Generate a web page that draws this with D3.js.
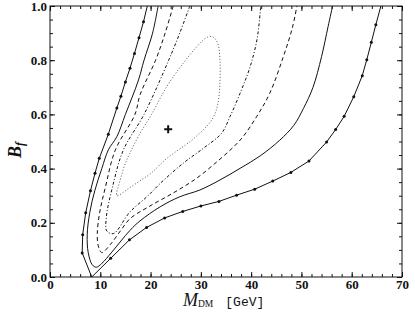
<!DOCTYPE html>
<html>
<head>
<meta charset="utf-8">
<script src="https://cdn.jsdelivr.net/npm/d3@7"></script>
<style>
body { margin: 0; background: #fff; }
text { fill: #111; }
</style>
</head>
<body>
<svg id="chart" width="415" height="312"></svg>
<script>
// contours, [M_DM, B_f]
var outerLeft = [[19.35, 1.0], [18.6, 0.942], [17.7, 0.883], [16.8, 0.825], [15.9, 0.77], [15.0, 0.72], [14.1, 0.667],
    [13.3, 0.624], [11.6, 0.527], [9.8, 0.438], [8.95, 0.383], [8.05, 0.318], [7.1, 0.237], [6.5, 0.156], [6.4, 0.089], [8.3, 0.0]]
var outerRight = [[8.3, 0.0], [12.07, 0.069], [15.8, 0.137], [19.2, 0.183], [22.8, 0.218], [26.4, 0.242], [30.0, 0.262],
    [33.6, 0.279], [37.1, 0.302], [40.7, 0.324], [44.3, 0.354], [47.9, 0.386], [51.5, 0.428], [55.0, 0.498], [56.8, 0.544],
    [58.5, 0.593], [60.4, 0.665], [62.1, 0.743], [63.0, 0.802], [63.9, 0.866], [64.8, 0.931], [65.8, 1.0]]
var solidCurve = [[21.5, 1.0], [20.4, 0.9], [18.7, 0.8], [17.6, 0.727], [15.0, 0.6], [13.3, 0.518], [11.6, 0.469], [10.3, 0.4],
    [8.9, 0.318], [7.9, 0.237], [7.4, 0.156], [7.6, 0.09], [8.4, 0.045], [9.2, 0.036], [10.3, 0.05], [12.3, 0.092],
    [15.9, 0.172], [17.9, 0.207], [21.9, 0.259], [25.8, 0.296], [29.8, 0.321], [33.8, 0.358], [37.8, 0.401], [41.8, 0.447],
    [45.7, 0.505], [48.5, 0.56], [50.4, 0.622], [52.3, 0.7], [54.0, 0.813], [55.3, 0.924], [56.2, 1.0]]
var dashedCurve = [[24.5, 1.0], [22.9, 0.9], [21.0, 0.8], [17.9, 0.672], [16.9, 0.6], [13.0, 0.469], [11.0, 0.33], [9.9, 0.24],
    [9.4, 0.16], [9.6, 0.115], [10.3, 0.09], [12.0, 0.12], [14.0, 0.17], [15.9, 0.215], [19.5, 0.258], [24.5, 0.31],
    [29.2, 0.365], [33.5, 0.43], [36.5, 0.48], [38.4, 0.518], [41.1, 0.592], [43.7, 0.678], [46.4, 0.813], [48.2, 0.92], [49.1, 1.0]]
var dashDotCurve = [[27.8, 1.0], [25.8, 0.9], [23.6, 0.8], [18.7, 0.6], [14.6, 0.469], [12.4, 0.33], [11.2, 0.22], [11.3, 0.17],
    [12.6, 0.16], [15.9, 0.24], [19.5, 0.3], [21.9, 0.345], [26.5, 0.42], [30.5, 0.475], [34.1, 0.53], [35.8, 0.592],
    [37.8, 0.678], [39.8, 0.776], [41.2, 0.88], [41.9, 1.0]]
var dottedLoop = [[13.3, 0.30], [14.0, 0.36], [15.0, 0.42], [16.2, 0.469], [17.9, 0.53], [20.2, 0.6], [23.2, 0.702],
    [26.5, 0.789], [29.8, 0.862], [31.3, 0.885], [32.3, 0.887], [33.3, 0.865], [33.8, 0.8], [33.8, 0.72], [33.4, 0.641],
    [32.5, 0.59], [31.1, 0.555], [28.2, 0.505], [23.2, 0.437], [19.9, 0.38], [17.9, 0.355], [15.5, 0.325]]
var bestFit = [23.5, 0.545]

var xTicks = [0, 10, 20, 30, 40, 50, 60, 70]
var yTicks = [0.0, 0.2, 0.4, 0.6, 0.8, 1.0]
var xMinor = d3.range(0, 70.01, 2)
var yMinor = d3.range(0, 1.001, 0.05)

var svg = d3.select("#chart"),
    margin = { top: 6, left: 50, bottom: 35, right: 13 },
    width = 415,
    height = 312;

var x = d3.scaleLinear()
    .domain([0, 70])
    .range([margin.left, width - margin.right])

var y = d3.scaleLinear()
    .domain([0, 1])
    .range([height - margin.bottom, margin.top])

svg.append("clipPath").attr("id", "clip")
    .append("rect")
    .attr("x", x(0)).attr("y", y(1))
    .attr("width", x(70) - x(0)).attr("height", y(0) - y(1))

var plot = svg.append("g").attr("clip-path", "url(#clip)")

var smooth = d3.line()
    .x(d => x(d[0]))
    .y(d => y(d[1]))
    .curve(d3.curveCatmullRom.alpha(0.5))

var straight = d3.line()
    .x(d => x(d[0]))
    .y(d => y(d[1]))

var loop = d3.line()
    .x(d => x(d[0]))
    .y(d => y(d[1]))
    .curve(d3.curveCatmullRomClosed.alpha(0.5))

function curve(path, dash, color) {
    plot.append("path")
        .attr("d", path)
        .attr("fill", "none")
        .attr("stroke", color || "#111")
        .attr("stroke-width", 1)
        .attr("stroke-dasharray", dash)
}

curve(straight(outerLeft.concat(outerRight.slice(1))), null)
curve(smooth(solidCurve), null)
curve(smooth(dashedCurve), "4,3")
curve(smooth(dashDotCurve), "3,2,1,2")
curve(loop(dottedLoop), "1,2", "#555")

// markers on the outer contour
var marks = outerLeft.slice(1, -1).concat(outerRight.slice(1, -1))
plot.selectAll("circle.mark")
    .data(marks)
    .enter().append("circle")
    .attr("class", "mark")
    .attr("cx", d => x(d[0]))
    .attr("cy", d => y(d[1]))
    .attr("r", 1.5)
    .attr("fill", "#111")

// best fit cross
var bx = x(bestFit[0]), by = y(bestFit[1])
plot.append("path")
    .attr("d", `M${bx - 4},${by}H${bx + 4}M${bx},${by - 4}V${by + 4}`)
    .attr("stroke", "#111")
    .attr("stroke-width", 2)

// axes, ticks inward on all sides
function styleAxis(g) {
    g.select(".domain").remove()
    g.selectAll("line").attr("stroke", "#111")
    g.selectAll("text")
        .style("font-family", "Liberation Serif")
        .style("font-weight", "bold")
        .style("font-size", "13px")
}

svg.append("g")
    .attr("transform", `translate(0,${y(0)})`)
    .call(d3.axisBottom(x).tickValues(xTicks).tickSize(-5).tickPadding(3).tickFormat(d3.format("d")))
    .call(styleAxis)

svg.append("g")
    .attr("transform", `translate(0,${y(0)})`)
    .call(d3.axisBottom(x).tickValues(xMinor).tickSize(-3).tickFormat(""))
    .call(styleAxis)

svg.append("g")
    .attr("transform", `translate(0,${y(1)})`)
    .call(d3.axisTop(x).tickValues(xTicks).tickSize(-5).tickFormat(""))
    .call(styleAxis)

svg.append("g")
    .attr("transform", `translate(0,${y(1)})`)
    .call(d3.axisTop(x).tickValues(xMinor).tickSize(-3).tickFormat(""))
    .call(styleAxis)

svg.append("g")
    .attr("transform", `translate(${x(0)},0)`)
    .call(d3.axisLeft(y).tickValues(yTicks).tickSize(-5).tickPadding(3).tickFormat(d3.format(".1f")))
    .call(styleAxis)

svg.append("g")
    .attr("transform", `translate(${x(0)},0)`)
    .call(d3.axisLeft(y).tickValues(yMinor).tickSize(-3).tickFormat(""))
    .call(styleAxis)

svg.append("g")
    .attr("transform", `translate(${x(70)},0)`)
    .call(d3.axisRight(y).tickValues(yTicks).tickSize(-5).tickFormat(""))
    .call(styleAxis)

svg.append("g")
    .attr("transform", `translate(${x(70)},0)`)
    .call(d3.axisRight(y).tickValues(yMinor).tickSize(-3).tickFormat(""))
    .call(styleAxis)

svg.append("rect")
    .attr("x", x(0)).attr("y", y(1))
    .attr("width", x(70) - x(0)).attr("height", y(0) - y(1))
    .attr("fill", "none")
    .attr("stroke", "#111")
    .attr("stroke-width", 1)

// axis titles
var xt = svg.append("text")
    .attr("x", 183).attr("y", 306)
    .style("font-family", "Liberation Serif")
xt.append("tspan").text("M").style("font-style", "italic").style("font-size", "18px")
xt.append("tspan").text("DM").style("font-size", "9.5px").attr("dy", 1)
xt.append("tspan").text("[GeV]").attr("dx", 12).attr("dy", -1)
    .style("font-family", "Liberation Mono").style("font-size", "13px")

var yt = svg.append("text")
    .attr("transform", "translate(21,158) rotate(-90)")
    .style("font-family", "Liberation Serif")
    .style("font-weight", "bold")
    .style("font-style", "italic")
yt.append("tspan").text("B").style("font-size", "18px")
yt.append("tspan").text("f").style("font-size", "12px").attr("dy", 3)
</script>
</body>
</html>
